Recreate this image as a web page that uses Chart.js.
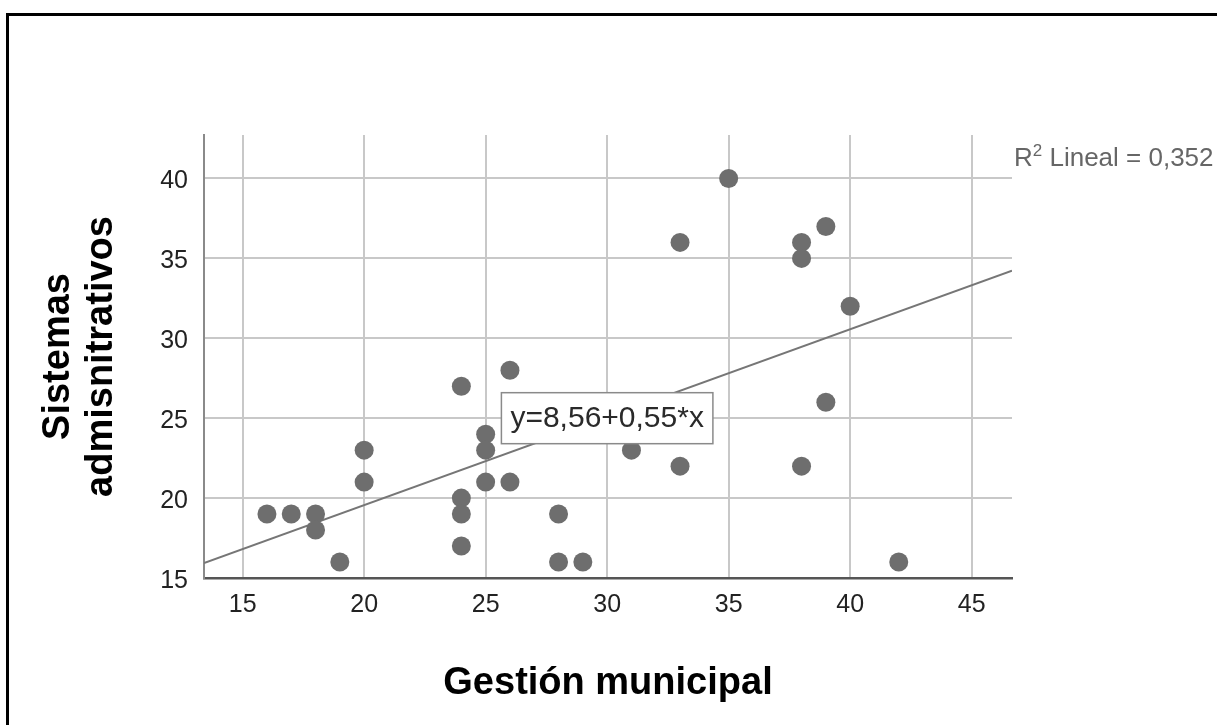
<!DOCTYPE html>
<html><head><meta charset="utf-8">
<script src="https://cdn.jsdelivr.net/npm/chart.js@4.4.1/dist/chart.umd.min.js"></script>
<style>html,body{margin:0;padding:0;background:#fff;overflow:hidden}canvas{display:block}</style>
</head><body>
<canvas id="c" width="1217" height="725"></canvas>
<script>
// ---- data ----
const gestion  = [16,17,18,18,19,20,20,24,24,24,24,25,25,25,26,26,28,28,29,31,33,33,35,38,38,38,39,39,40,42];
const sistemas = [19,19,19,18,16,23,21,27,20,19,17,24,23,21,28,21,19,16,16,23,36,22,40,36,35,22,37,26,32,16];
const xTicks = [15,20,25,30,35,40,45];
const yTicks = [15,20,25,30,35,40];
const xRange = [13.41, 46.66];
const yRange = [15, 42.72];
const fitIntercept = 8.56;
const fitSlope = 0.55;
const fitLabel = 'y=8,56+0,55*x';
const fitLabelAt = [30, 25];
const r2Parts = ['R', '2', ' Lineal = 0,352'];
const xTitle = 'Gestión municipal';
const yTitle = ['Sistemas', 'admisnitrativos'];

const FONT = "'Liberation Sans', Arial, sans-serif";

const points = gestion.map((g, i) => ({x: g, y: sistemas[i]}));
const fitLine = xRange.map(x => ({x: x, y: fitIntercept + fitSlope * x}));

const decor = {
  id: 'decor',
  beforeDraw(chart) {
    const ctx = chart.ctx;
    ctx.save();
    ctx.fillStyle = '#fff';
    ctx.fillRect(0, 0, chart.width, chart.height);
    ctx.strokeStyle = '#000';
    ctx.lineWidth = 3;
    ctx.strokeRect(7.5, 14.5, 3000, 3000);
    ctx.restore();
  },
  afterDatasetsDraw(chart) {
    const ctx = chart.ctx;
    const xs = chart.scales.x, ys = chart.scales.y;
    // equation label box
    ctx.save();
    ctx.font = '30px ' + FONT;
    const tw = ctx.measureText(fitLabel).width;
    const cx = xs.getPixelForValue(fitLabelAt[0]);
    const cy = ys.getPixelForValue(fitLabelAt[1]);
    const bw = tw + 18, bh = 51;
    ctx.fillStyle = '#fff';
    ctx.fillRect(cx - bw / 2, cy - bh / 2, bw, bh);
    ctx.strokeStyle = '#8a8a8a';
    ctx.lineWidth = 1.5;
    ctx.strokeRect(cx - bw / 2, cy - bh / 2, bw, bh);
    ctx.fillStyle = '#2a2a2a';
    ctx.textAlign = 'center';
    ctx.textBaseline = 'middle';
    ctx.fillText(fitLabel, cx, cy + 1);
    ctx.restore();

    // R² label
    ctx.save();
    ctx.fillStyle = '#666';
    ctx.textBaseline = 'alphabetic';
    ctx.textAlign = 'left';
    let x = chart.chartArea.right + 2;
    const base = ys.getPixelForValue(yTicks[yTicks.length - 1]) - 12;
    ctx.font = '26px ' + FONT;
    ctx.fillText(r2Parts[0], x, base);
    x += ctx.measureText(r2Parts[0]).width;
    ctx.font = '17px ' + FONT;
    ctx.fillText(r2Parts[1], x, base - 10);
    x += ctx.measureText(r2Parts[1]).width;
    ctx.font = '26px ' + FONT;
    ctx.fillText(r2Parts[2], x, base);
    ctx.restore();
  }
};

new Chart(document.getElementById('c'), {
  type: 'scatter',
  data: {
    datasets: [
      {
        data: points,
        backgroundColor: '#6e6e6e',
        borderWidth: 0,
        pointRadius: 9.5,
        pointHoverRadius: 9.5
      },
      {
        type: 'line',
        data: fitLine,
        borderColor: '#767676',
        borderWidth: 2,
        pointRadius: 0,
        fill: false,
        tension: 0
      }
    ]
  },
  options: {
    responsive: false,
    devicePixelRatio: 1,
    animation: false,
    events: [],
    layout: {padding: {top: 135, right: 205, left: 0, bottom: 0}},
    plugins: {legend: {display: false}, tooltip: {enabled: false}},
    scales: {
      x: {
        type: 'linear',
        min: xRange[0], max: xRange[1],
        afterBuildTicks: s => { s.ticks = xTicks.map(v => ({value: v})); },
        afterFit: s => { s.height = 147; },
        grid: {color: '#c8c8c8', lineWidth: 2, drawTicks: false},
        border: {display: true, color: '#555', width: 2.5},
        ticks: {color: '#222', font: {family: FONT, size: 25}, padding: 12, maxRotation: 0, autoSkip: false},
        title: {display: true, text: xTitle, color: '#000', font: {family: FONT, size: 38, weight: 'bold', lineHeight: 1.13}, padding: {top: 0, bottom: 20}}
      },
      y: {
        type: 'linear',
        min: yRange[0], max: yRange[1],
        afterBuildTicks: s => { s.ticks = yTicks.map(v => ({value: v})); },
        afterFit: s => { s.width = 204; },
        grid: {color: '#c8c8c8', lineWidth: 2, drawTicks: false},
        border: {display: true, color: '#8a8a8a', width: 2},
        ticks: {color: '#222', font: {family: FONT, size: 25}, padding: 16, labelOffset: 3, autoSkip: false},
        title: {display: true, text: yTitle, color: '#000', font: {family: FONT, size: 38, weight: 'bold', lineHeight: 1.13}, padding: {top: 37, bottom: 0}}
      }
    }
  },
  plugins: [decor]
});
</script>
</body></html>
